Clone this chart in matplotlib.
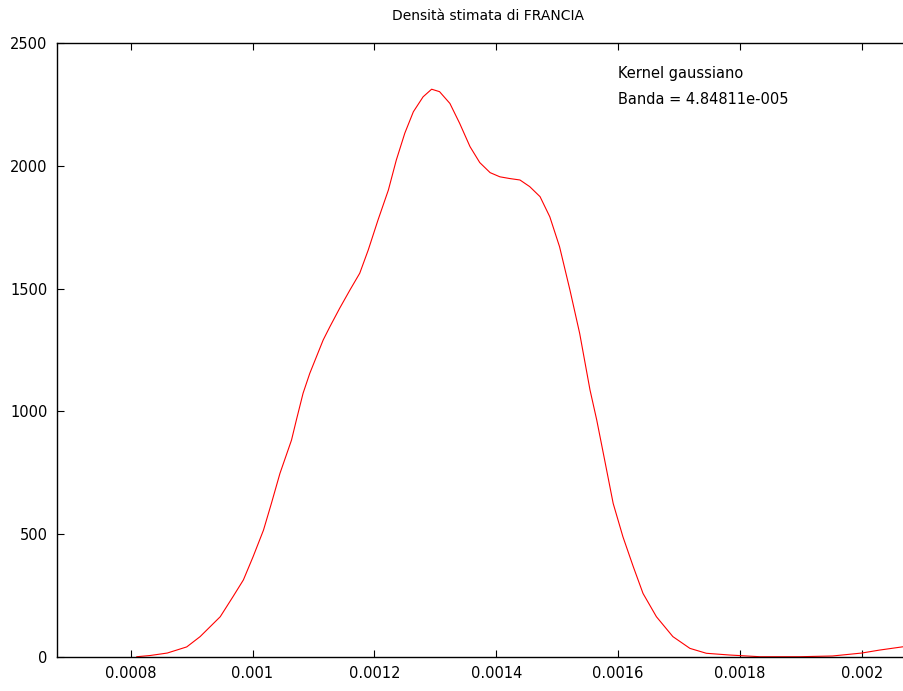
import matplotlib.pyplot as plt

# stima kernel della densità
x_vals = [0.000810, 0.000832, 0.000860, 0.000892, 0.000914, 0.000947, 0.000968,
          0.000985, 0.001001, 0.001018, 0.001031, 0.001045, 0.001064, 0.001072,
          0.001083, 0.001094, 0.001105, 0.001116, 0.001127, 0.001143, 0.001160,
          0.001176, 0.001190, 0.001206, 0.001223, 0.001236, 0.001250, 0.001264,
          0.001280, 0.001294, 0.001307, 0.001324, 0.001340, 0.001357, 0.001373,
          0.001390, 0.001406, 0.001422, 0.001439, 0.001455, 0.001472, 0.001488,
          0.001504, 0.001521, 0.001537, 0.001554, 0.001565, 0.001578, 0.001592,
          0.001608, 0.001625, 0.001641, 0.001663, 0.001690, 0.001718, 0.001745,
          0.001783, 0.001833, 0.001898, 0.001952, 0.002000, 0.002029, 0.002069]
density = [0, 5, 15, 40, 82, 163, 245,
           313, 408, 516, 625, 747, 883, 965,
           1074, 1155, 1223, 1291, 1345, 1420, 1495,
           1563, 1658, 1780, 1902, 2024, 2134, 2221,
           2282, 2313, 2303, 2255, 2174, 2079, 2014,
           1973, 1956, 1949, 1943, 1916, 1875, 1793,
           1671, 1495, 1318, 1087, 965, 802, 625,
           489, 367, 258, 163, 82, 34, 14,
           7, 0, 0, 3, 15, 27, 41]

x_ticks = [0.0008, 0.001, 0.0012, 0.0014, 0.0016, 0.0018, 0.002]
x_labels = ["0.0008", "0.001", "0.0012", "0.0014", "0.0016", "0.0018", "0.002"]
y_ticks = [0, 500, 1000, 1500, 2000, 2500]

fig = plt.figure(figsize=(9.04, 6.91), dpi=100)
ax = fig.add_axes([0.0634, 0.0496, 0.9366, 0.8877])

ax.plot(x_vals, density, color="red", linewidth=0.8)

ax.set_xlim(0.00067957, 0.0020694)
ax.set_ylim(0, 2500)
ax.set_xticks(x_ticks)
ax.set_xticklabels(x_labels)
ax.set_yticks(y_ticks)
ax.tick_params(direction="in", length=5, width=0.8, labelsize=10.5, pad=7,
               top=True, right=False)
ax.spines["right"].set_visible(False)
for s in ["left", "bottom", "top"]:
    ax.spines[s].set_linewidth(1.0)

fig.text(488 / 904, 1 - 16 / 691, "Densità stimata di FRANCIA",
         ha="center", va="center", fontsize=10)
ax.text(0.00160, 2375, "Kernel gaussiano", fontsize=10.5, va="center")
ax.text(0.00160, 2273, "Banda = 4.84811e-005", fontsize=10.5, va="center")

fig.savefig("out.png", dpi=100)
